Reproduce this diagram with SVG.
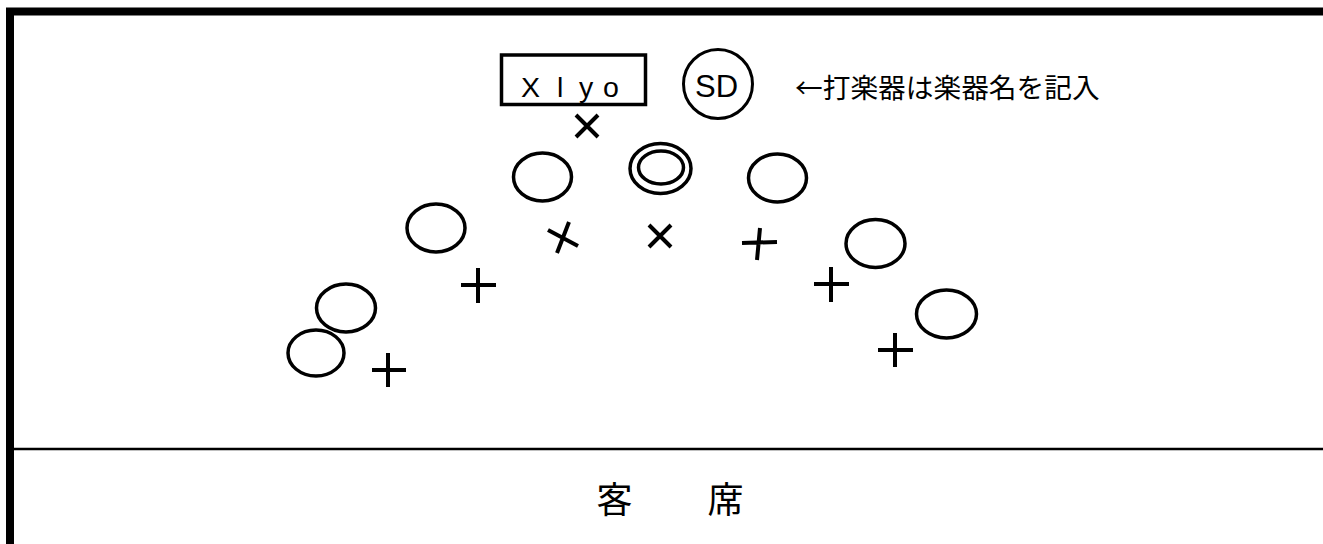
<svg xmlns="http://www.w3.org/2000/svg" width="1323" height="544" viewBox="0 0 1323 544">
<style>
.seat{fill:none;stroke:#000;stroke-width:3.5}
.mark{stroke:#000;stroke-width:4;stroke-linecap:butt;fill:none}
.jp{font-family:"Noto Sans CJK JP","Noto Sans",sans-serif;fill:#000}
.lat{font-family:"Liberation Sans",Arial,sans-serif;fill:#000}
</style>
<rect width="1323" height="544" fill="#fff"/>
<g id="frame">
<line x1="6" y1="11.5" x2="1323" y2="11.5" stroke="#000" stroke-width="8"/>
<line x1="10" y1="8" x2="10" y2="544" stroke="#000" stroke-width="8"/>
<line x1="14" y1="449" x2="1323" y2="449" stroke="#000" stroke-width="2.5"/>
</g>
<g id="xylo">
<rect x="501.5" y="55" width="144" height="49.5" fill="none" stroke="#000" stroke-width="3.5"/>
<text class="lat" font-size="28.5" x="521 557 579 603" y="97">Xlyo</text>
</g>
<g id="sd">
<circle cx="718" cy="84" r="34.5" fill="none" stroke="#000" stroke-width="3"/>
<text class="lat" font-size="31" x="716.5" y="97" text-anchor="middle">SD</text>
</g>
<g id="note">
<text class="jp" font-size="27.7" x="795" y="98">←打楽器は楽器名を記入</text>
</g>
<g id="conductor">
<ellipse class="seat" cx="660.5" cy="168.5" rx="30.5" ry="25"/>
<ellipse class="seat" cx="661" cy="167.5" rx="22.5" ry="16.5"/>
</g>
<g id="seats">
<ellipse id="s1" class="seat" cx="316" cy="353" rx="28" ry="23"/>
<ellipse id="s2" class="seat" cx="346" cy="308" rx="29.5" ry="24"/>
<ellipse id="s3" class="seat" cx="436" cy="228" rx="29" ry="24"/>
<ellipse id="s4" class="seat" cx="542.5" cy="177" rx="29" ry="24"/>
<ellipse id="s5" class="seat" cx="777.5" cy="178" rx="29" ry="24"/>
<ellipse id="s6" class="seat" cx="875.5" cy="243.5" rx="29.5" ry="24"/>
<ellipse id="s7" class="seat" cx="946.5" cy="314" rx="30" ry="24"/>
</g>
<g id="marks">
<path class="mark" d="M576,115 L598,137 M598,115 L576,137"/>
<path class="mark" d="M548,230 L578,246 M569,222 L557,253"/>
<path class="mark" d="M649,225 L671,247 M671,225 L649,247"/>
<path class="mark" d="M742,243 L777,242 M760,228 L757,260"/>
<path class="mark" d="M461,285 L496,285 M478,268 L478,303"/>
<path class="mark" d="M372,370 L406,370 M388,353 L388,387"/>
<path class="mark" d="M814,284 L849,284 M831,267 L831,302"/>
<path class="mark" d="M878,350 L913,350 M895,333 L895,367"/>
</g>
<g id="audience">
<text class="jp" font-size="36" x="614.5" y="513" text-anchor="middle">客</text>
<text class="jp" font-size="36" x="725.5" y="513" text-anchor="middle">席</text>
</g>
</svg>
